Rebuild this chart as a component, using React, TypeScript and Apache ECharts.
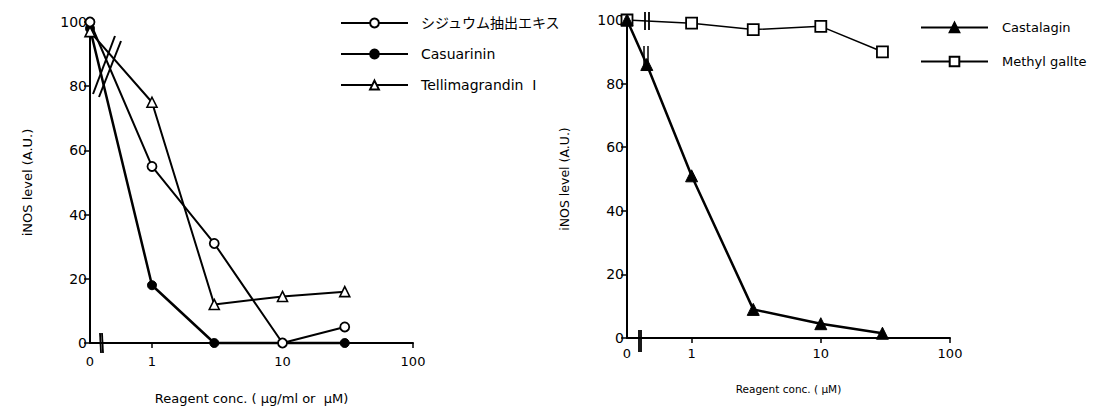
import React, { useEffect, useRef } from "react";
import * as echarts from "echarts";

// ---------- data ----------
const leftConc = [0, 1, 3, 10, 30];
const syzygiumValues = [100, 55, 31, 0, 5];
const casuarininConc = [0, 1, 3, 30];
const casuarininValues = [98, 18, 0, 0];
const tellimaValues = [97, 75, 12, 14.5, 16];

const castalaginConc = [0, 0.45, 1, 3, 10, 30];
const castalaginValues = [100, 86, 51, 9, 4.5, 1.5];
const methylConc = [0, 1, 3, 10, 30];
const methylValues = [100, 99, 97, 98, 90];

const xTickConc = [0, 1, 10, 100];
const xTickLabels = ["0", "1", "10", "100"];

const names = {
  syz: "シジュウム抽出エキス",
  cas: "Casuarinin",
  tel: "Tellimagrandin  I",
  cast: "Castalagin",
  meth: "Methyl gallte",
};

// ---------- layout ----------
const K_LEFT = 0.475;
const K_RIGHT = 0.5;
const G0 = { left: 90, top: 22, width: 323, height: 323 };
const G1 = { left: 627, top: 20, width: 323, height: 318 };
const FONT = "DejaVu Sans, Noto Sans CJK JP, sans-serif";

const toU = (c: number, k: number) => (c === 0 ? 0 : Math.log10(c) + k);
const pts = (conc: number[], vals: number[], k: number) =>
  conc.map((c, i) => [toU(c, k), vals[i]]);

function xAxisFor(
  gridIndex: number,
  k: number,
  name: string,
  nameGap: number,
  nameSize: number,
  labelMargin: number
) {
  const ticks = xTickConc.map((c) => toU(c, k));
  return {
    type: "value",
    gridIndex,
    min: 0,
    max: toU(100, k),
    name,
    nameLocation: "middle",
    nameGap,
    nameTextStyle: { color: "#000", fontSize: nameSize, fontFamily: FONT },
    axisLine: { show: true, onZero: false, lineStyle: { color: "#000", width: 2 } },
    axisTick: {
      show: true,
      length: 5,
      lineStyle: { color: "#000", width: 1.5 },
      customValues: ticks.slice(1),
    },
    axisLabel: {
      color: "#000",
      fontSize: 13,
      fontFamily: FONT,
      margin: labelMargin,
      customValues: ticks,
      formatter: (v: number) => {
        const i = ticks.findIndex((t) => Math.abs(t - v) < 1e-6);
        return i >= 0 ? xTickLabels[i] : "";
      },
    },
    splitLine: { show: false },
  };
}

function yAxisFor(gridIndex: number, nameGap: number, nameSize: number) {
  return {
    type: "value",
    gridIndex,
    min: 0,
    max: 100,
    interval: 20,
    name: "iNOS level (A.U.)",
    nameLocation: "middle",
    nameGap,
    nameRotate: 90,
    nameTextStyle: { color: "#000", fontSize: nameSize, fontFamily: FONT },
    axisLine: { show: true, lineStyle: { color: "#000", width: 2 } },
    axisTick: { show: true, length: 6, lineStyle: { color: "#000", width: 1.5 } },
    axisLabel: { color: "#000", fontSize: 14, fontFamily: FONT, margin: 3 },
    splitLine: { show: false },
  };
}

function seg(x1: number, y1: number, x2: number, y2: number, w = 2) {
  return {
    type: "line",
    shape: { x1, y1, x2, y2 },
    style: { stroke: "#000", lineWidth: w },
    z: 100,
  };
}

export default function App() {
  const ref = useRef<HTMLDivElement>(null);
  useEffect(() => {
    if (!ref.current) return;
    const chart = echarts.init(ref.current, null, { renderer: "svg" });
    const g0b = G0.top + G0.height;
    const g1b = G1.top + G1.height;
    const option: any = {
      animation: false,
      backgroundColor: "#fff",
      grid: [
        { ...G0, containLabel: false },
        { ...G1, containLabel: false },
      ],
      xAxis: [
        xAxisFor(0, K_LEFT, "Reagent conc. ( \u03bcg/ml or  \u03bcM)", 49, 13, 12),
        xAxisFor(1, K_RIGHT, "Reagent conc. ( \u03bcM)", 46, 10.5, 9),
      ],
      yAxis: [yAxisFor(0, 56, 13), yAxisFor(1, 56, 12.5)],
      legend: [
        {
          orient: "vertical",
          left: 335,
          top: 11,
          itemWidth: 67,
          itemHeight: 11,
          itemGap: 17,
          textStyle: {
            color: "#000",
            fontSize: 14,
            fontFamily: FONT,
            padding: [0, 0, 0, 8],
          },
          data: [names.syz, names.cas, names.tel],
        },
        {
          orient: "vertical",
          left: 915,
          top: 16,
          itemWidth: 67,
          itemHeight: 12,
          itemGap: 21,
          textStyle: {
            color: "#000",
            fontSize: 13,
            fontFamily: FONT,
            padding: [0, 0, 0, 9],
          },
          data: [names.cast, names.meth],
        },
      ],
      series: [
        {
          name: names.cas,
          type: "line",
          xAxisIndex: 0,
          yAxisIndex: 0,
          data: pts(casuarininConc, casuarininValues, K_LEFT),
          symbol: "circle",
          symbolSize: 9,
          clip: false,
          lineStyle: { color: "#000", width: 2.5 },
          itemStyle: { color: "#000", borderColor: "#000", borderWidth: 1 },
        },
        {
          name: names.tel,
          type: "line",
          xAxisIndex: 0,
          yAxisIndex: 0,
          data: pts(leftConc, tellimaValues, K_LEFT),
          symbol: "triangle",
          symbolSize: 10,
          clip: false,
          lineStyle: { color: "#000", width: 2 },
          itemStyle: { color: "#fff", borderColor: "#000", borderWidth: 1.6 },
        },
        {
          name: names.syz,
          type: "line",
          xAxisIndex: 0,
          yAxisIndex: 0,
          data: pts(leftConc, syzygiumValues, K_LEFT),
          symbol: "circle",
          symbolSize: 9,
          clip: false,
          lineStyle: { color: "#000", width: 2 },
          itemStyle: { color: "#fff", borderColor: "#000", borderWidth: 1.8 },
        },
        {
          name: names.meth,
          type: "line",
          xAxisIndex: 1,
          yAxisIndex: 1,
          data: pts(methylConc, methylValues, K_RIGHT),
          symbol: "rect",
          symbolSize: 11,
          clip: false,
          lineStyle: { color: "#000", width: 1.5 },
          itemStyle: { color: "#fff", borderColor: "#000", borderWidth: 1.8 },
        },
        {
          name: names.cast,
          type: "line",
          xAxisIndex: 1,
          yAxisIndex: 1,
          data: pts(castalaginConc, castalaginValues, K_RIGHT),
          symbol: "triangle",
          symbolSize: 12,
          clip: false,
          lineStyle: { color: "#000", width: 2.5 },
          itemStyle: { color: "#000", borderColor: "#000", borderWidth: 1 },
        },
      ],
      graphic: [
        // left chart breaks
        seg(G0.left + 3, G0.top + 72, G0.left + 25, G0.top + 14),
        seg(G0.left + 9, G0.top + 75, G0.left + 31, G0.top + 19),
        seg(G0.left + 10, g0b - 12, G0.left + 11, g0b + 8, 1.8),
        seg(G0.left + 12, g0b - 12, G0.left + 13, g0b + 8, 1.8),
        // right chart breaks
        seg(G1.left + 18, G1.top - 8, G1.left + 18, G1.top + 10, 1.8),
        seg(G1.left + 22, G1.top - 8, G1.left + 22, G1.top + 10, 1.8),
        seg(G1.left + 17, G1.top + 26, G1.left + 17, G1.top + 48, 1.5),
        seg(G1.left + 21, G1.top + 26, G1.left + 21, G1.top + 48, 1.5),
        seg(G1.left + 12, g1b - 8, G1.left + 12, g1b + 14, 1.8),
        seg(G1.left + 14, g1b - 8, G1.left + 14, g1b + 14, 1.8),
      ],
    };
    chart.setOption(option);
    return () => chart.dispose();
  }, []);
  return (
    <div
      ref={ref}
      style={{ position: "fixed", left: 0, top: 0, width: 1096, height: 410, background: "#fff" }}
    />
  );
}
